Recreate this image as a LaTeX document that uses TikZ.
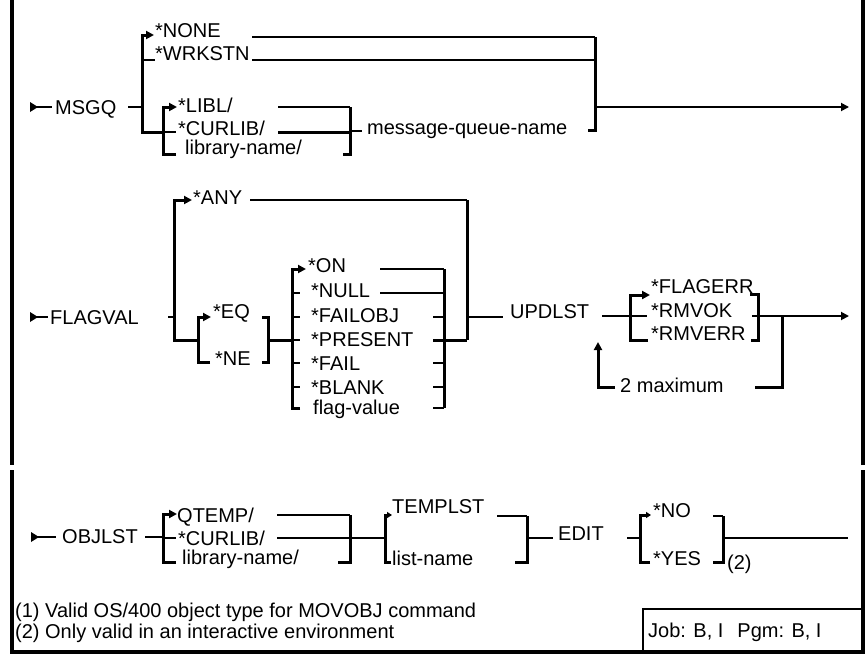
\documentclass[tikz,border=0pt]{standalone}
\usepackage{fontspec}
\setmainfont{Liberation Sans}
\usetikzlibrary{arrows.meta}

\begin{document}
\begin{tikzpicture}[
    x=1pt, y=-1pt,
    txt/.style={anchor=base west, inner sep=0pt},
    rail/.style={line width=1.8pt},
    bar/.style={line width=3pt, line join=miter},
    frame/.style={line width=3.6pt},
    tip/.style={-{Triangle[length=8pt,width=8pt]}},
    smalltip/.style={-{Triangle[length=5pt,width=6pt]}},
    font=\fontsize{20}{22}\selectfont
]
\useasboundingbox (0,0) rectangle (866,656);
% Frame round the diagram
\draw[frame] (12,0) -- (12,465);
\draw[frame] (12,470) -- (12,652) -- (863,652) -- (863,470);
\draw[frame] (863,465) -- (863,0);
\draw[line width=2.2pt] (643,652) -- (643,609) -- (863,609);

% MSGQ
\fill (30,102) -- (38,107) -- (30,112) -- cycle;
\draw[rail] (37,107) -- (52,107);
\node[txt] (msgq) at (55,114) {MSGQ};
\node[txt] (none) at (155,37) {*NONE};
\node[txt] (wrkstn) at (155,60) {*WRKSTN};
\node[txt] (libl) at (178,112) {*LIBL/};
\node[txt] (curlib) at (178,135) {*CURLIB/};
\node[txt] (libname) at (185,154) {library-name/};
\node[txt] (mqname) at (367,134) {message-queue-name};
\draw[rail] (128,107) -- (142,107);
\draw[bar, tip] (163,132) -- (142,132) -- (142,35) -- (154,35);
\draw[rail] (142,60) -- (155,60);
\draw[bar, tip] (176,154) -- (163,154) -- (163,107) -- (177,107);
\draw[rail] (163,132) -- (176,132);
\draw[rail] (278,107) -- (350,107);
\draw[bar] (278,132) -- (350,132);
\draw[bar] (343,154) -- (350,154) -- (350,107);
\draw[rail] (350,131) -- (362,131);
\draw[rail] (252,37) -- (595,37);
\draw[rail] (252,60) -- (595,60);
\draw[bar] (588,130) -- (595,130) -- (595,37);
\draw[rail, tip] (595,107) -- (849,107);

% FLAGVAL
\fill (30,312) -- (38,317) -- (30,322) -- cycle;
\draw[rail] (37,317) -- (48,317);
\node[txt] (flagval) at (50,324) {FLAGVAL};
\node[txt] (any) at (193,204) {*ANY};
\node[txt] (eq) at (213,318) {*EQ};
\node[txt] (ne) at (215,365) {*NE};
\node[txt] (on) at (308,272) {*ON};
\node[txt] (null) at (311,297) {*NULL};
\node[txt] (failobj) at (311,322) {*FAILOBJ};
\node[txt] (present) at (311,346) {*PRESENT};
\node[txt] (fail) at (311,370) {*FAIL};
\node[txt] (blank) at (311,394) {*BLANK};
\node[txt] (flagvalue) at (313,414) {flag-value};
\draw[rail] (168,317) -- (174,317);
\draw[bar, tip] (198,340) -- (174,340) -- (174,200) -- (192,200);
\draw[rail] (250,200) -- (467,200);
\draw[bar] (467,200) -- (467,340);
\draw[bar, tip] (210,362) -- (198,362) -- (198,317) -- (211,317);
\draw[bar] (262,317) -- (268,317) -- (268,362) -- (262,362);
\draw[bar] (268,340) -- (292,340);
\draw[bar, tip] (300,408) -- (292,408) -- (292,269) -- (306,269);
\foreach \y in {293,317,340,363,387}
    \draw[rail] (292,\y) -- (300,\y);
\draw[rail] (380,269) -- (444,269);
\draw[rail] (380,293) -- (444,293);
\foreach \y in {317,363,387,408}
    \draw[rail] (433,\y) -- (444,\y);
\draw[bar] (433,340) -- (467,340);
\draw[bar] (444,269) -- (444,408);

% UPDLST
\node[txt] (updlst) at (510,318) {UPDLST};
\node[txt] (flagerr) at (651,293) {*FLAGERR};
\node[txt] (rmvok) at (651,317) {*RMVOK};
\node[txt] (rmverr) at (651,340) {*RMVERR};
\node[txt] (maxtwo) at (620,392) {2 maximum};
\draw[rail] (467,317) -- (503,317);
\draw[rail] (602,316) -- (630,316);
\draw[bar, tip] (648,340) -- (630,340) -- (630,295) -- (650,295);
\draw[rail] (630,316) -- (647,316);
\draw[bar] (750,294) -- (758,294) -- (758,340) -- (751,340);
\draw[rail] (752,316) -- (758,316);
\draw[rail, tip] (758,316) -- (849,316);
\draw[bar] (782,316) -- (782,387) -- (755,387);
\draw[bar, tip] (615,387) -- (598,387) -- (598,342);

% OBJLST
\fill (31,532) -- (39,537) -- (31,542) -- cycle;
\draw[rail] (38,537) -- (56,537);
\node[txt] (objlst) at (62,543) {OBJLST};
\node[txt] (qtemp) at (177,522) {QTEMP/};
\node[txt] (curlibb) at (178,545) {*CURLIB/};
\node[txt] (libnameb) at (182,564) {library-name/};
\node[txt] (templst) at (392,513) {TEMPLST};
\node[txt] (listname) at (392,565) {list-name};
\node[txt] (edit) at (558,540) {EDIT};
\node[txt] (no) at (653,517) {*NO};
\node[txt] (yes) at (653,565) {*YES};
\node[txt] (notetwo) at (727,569) {(2)};
\draw[rail] (145,537) -- (163,537);
\draw[bar, tip] (176,562) -- (163,562) -- (163,514) -- (177,514);
\draw[rail] (163,538) -- (176,538);
\draw[rail] (277,515) -- (350,515);
\draw[rail] (277,538) -- (350,538);
\draw[bar] (338,562) -- (350,562) -- (350,515);
\draw[rail] (350,538) -- (385,538);
\draw[bar, smalltip] (391,562) -- (385,562) -- (385,515) -- (392,515);
\draw[rail] (497,516) -- (527,516);
\draw[bar] (515,562) -- (527,562) -- (527,516);
\draw[rail] (527,538) -- (553,538);
\draw[rail] (627,538) -- (640,538);
\draw[bar, smalltip] (650,562) -- (640,562) -- (640,515) -- (651,515);
\draw[rail] (713,516) -- (723,516);
\draw[bar] (713,562) -- (723,562) -- (723,516);
\draw[rail] (723,538) -- (848,538);

% Notes
\node[txt] (noteone) at (15,617) {(1) Valid OS/400 object type for MOVOBJ command};
\node[txt] (notetwoline) at (15,638) {(2) Only valid in an interactive environment};
\node[txt] (env) at (648,637) {Job: B, I\hspace{14pt}Pgm: B, I};
\end{tikzpicture}
\end{document}
